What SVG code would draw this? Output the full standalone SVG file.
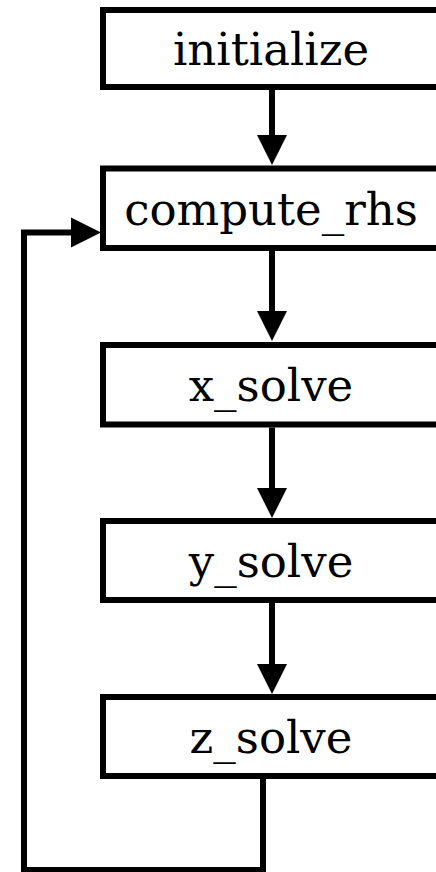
<svg xmlns="http://www.w3.org/2000/svg" width="436" height="872" viewBox="0 0 436 872">
  <style>
    .box { fill: #ffffff; stroke: #000000; stroke-width: 6; }
    .label { font-family: "DejaVu Serif", "Liberation Serif", serif; font-size: 45px; fill: #000000; text-anchor: middle; }
    .wire { fill: none; stroke: #000000; stroke-width: 6; marker-end: url(#head); }
  </style>
  <defs>
    <!-- solid triangular arrowhead; its base sits on the line end -->
    <marker id="head" markerUnits="userSpaceOnUse" markerWidth="30" markerHeight="30" refX="0" refY="15" orient="auto" overflow="visible">
      <path d="M0,0 L30,15 L0,30 Z" fill="#000000"/>
    </marker>
  </defs>
  <rect width="436" height="872" fill="#ffffff"/>

  <g id="initialize">
    <rect class="box" x="103" y="10" width="338" height="77"/>
    <text class="label" x="271" y="65">initialize</text>
  </g>
  <g id="compute_rhs">
    <rect class="box" x="103" y="168.5" width="338" height="79.5"/>
    <text class="label" x="271" y="225">compute_rhs</text>
  </g>
  <g id="x_solve">
    <rect class="box" x="103" y="345" width="338" height="79.5"/>
    <text class="label" x="271" y="401">x_solve</text>
  </g>
  <g id="y_solve">
    <rect class="box" x="103" y="521" width="338" height="79"/>
    <text class="label" x="271" y="577">y_solve</text>
  </g>
  <g id="z_solve">
    <rect class="box" x="103" y="697" width="338" height="79"/>
    <text class="label" x="271" y="753">z_solve</text>
  </g>

  <g id="connectors">
    <path class="wire" d="M272,90 V135"/>
    <path class="wire" d="M272,251 V311"/>
    <path class="wire" d="M272,427.5 V488"/>
    <path class="wire" d="M272,603 V664"/>
    <!-- loop back from z_solve to compute_rhs -->
    <path class="wire" d="M263,779 V870 H24 V232.5 H71"/>
  </g>
</svg>
